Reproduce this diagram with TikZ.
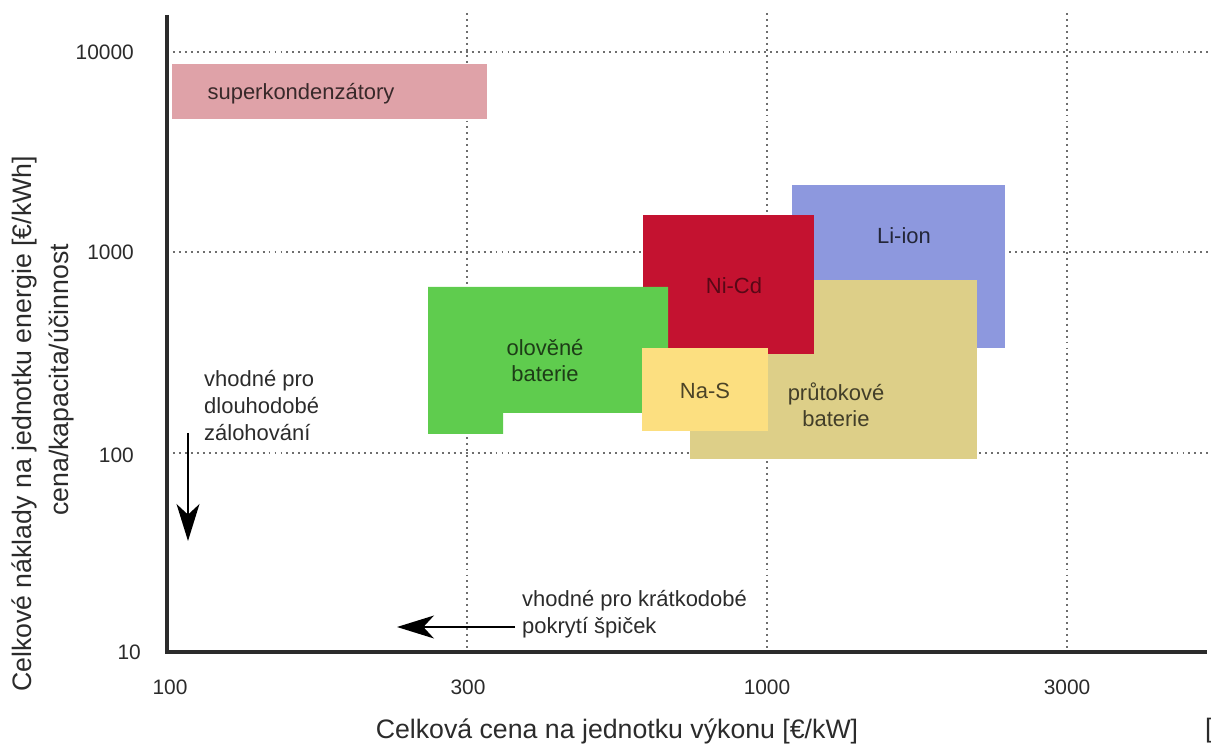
\documentclass[tikz,border=0pt]{standalone}
\usepackage{fontspec}
\setmainfont{Liberation Sans}
\usetikzlibrary{arrows.meta}
\definecolor{SuperPink}{HTML}{DFA2A8}
\definecolor{LiBlue}{HTML}{8D98DE}
\definecolor{NiRed}{HTML}{C41230}
\definecolor{LeadGreen}{HTML}{5FCC4E}
\definecolor{NaYellow}{HTML}{FCDF80}
\definecolor{FlowTan}{HTML}{DDCF88}
\definecolor{AxisGray}{HTML}{2B2B2B}
\definecolor{GridGray}{HTML}{6E6E6E}

\begin{document}
\begin{tikzpicture}[x=0.02cm,y=-0.02cm,
      gridline/.style={draw=GridGray,line width=1.3pt,dash pattern=on 1.1pt off 2.3pt},
      axisline/.style={draw=AxisGray,line width=1.8pt},
      ticklabel/.style={font=\fontsize{11.9}{14}\selectfont,text=AxisGray},
      axistitle/.style={font=\fontsize{15.2}{21}\selectfont,text=AxisGray},
      boxlabel/.style={font=\fontsize{12.5}{14.8}\selectfont,align=center},
      note/.style={font=\fontsize{12.5}{15.5}\selectfont,align=left,text=AxisGray},
      pointer/.style={-{Stealth[length=21pt,width=13pt,inset=6pt]},draw=black,line width=1.2pt}
    ]
      \useasboundingbox (0,0) rectangle (1211,746);

      % grid
      \foreach \gy in {52,252,453} \draw[gridline] (167,\gy) -- (1211,\gy);
      \foreach \gx in {467,767,1067} \draw[gridline] (\gx,13) -- (\gx,652);

      % technology areas
      \fill[LiBlue] (792,185) rectangle (1005,348);
      \fill[FlowTan] (690,280) rectangle (977,459);
      \fill[NiRed] (643,215) rectangle (814,354);
      \fill[LeadGreen] (428,287) -- (668,287) -- (668,413) -- (503,413) -- (503,434) -- (428,434) -- cycle;
      \fill[NaYellow] (642,348) rectangle (768,431);
      \fill[SuperPink] (172,64) rectangle (487,119);

      \node[boxlabel,text=black!75!SuperPink] (super) at (301,94) {superkondenzátory};
      \node[boxlabel,text=LiBlue!25!black] (liion) at (904,236) {Li-ion};
      \node[boxlabel,text=NiRed!45!black] (nicd) at (734,286) {Ni-Cd};
      \node[boxlabel,text=LeadGreen!30!black] (lead) at (545,361) {olověné\\baterie};
      \node[boxlabel,text=NaYellow!30!black] (nas) at (705,391) {Na-S};
      \node[boxlabel,text=FlowTan!30!black] (flow) at (836,405) {průtokové\\baterie};

      % axes
      \draw[axisline] (167,15) -- (167,652) -- (1207,652);

      \node[ticklabel,anchor=east] (y10000) at (140,52) {10000};
      \node[ticklabel,anchor=east] (y1000) at (140,252) {1000};
      \node[ticklabel,anchor=east] (y100) at (140,455) {100};
      \node[ticklabel,anchor=east] (y10) at (147,652) {10};
      \node[ticklabel] (x100) at (170,687) {100};
      \node[ticklabel] (x300) at (468,687) {300};
      \node[ticklabel] (x1000) at (767,687) {1000};
      \node[ticklabel] (x3000) at (1067,687) {3000};

      \node[axistitle] (xtitle) at (617,731) {Celková cena na jednotku výkonu [€/kW]};
      \node[axistitle,rotate=90] (ytitle) at (24,424) {Celkové náklady na jednotku energie [€/kWh]};
      \node[axistitle,rotate=90] (ysub) at (61,380) {cena/kapacita/účinnost};
      \node[axistitle,anchor=west] (bracket) at (1199,731) {[};

      % notes with arrows
      \node[note,anchor=north west] (longnote) at (198,364) {vhodné pro\\dlouhodobé\\zálohování};
      \node[note,anchor=west] (shortnote) at (516,614) {vhodné pro krátkodobé\\pokrytí špiček};
      \coordinate (longtop) at (188,433);
      \coordinate (longtip) at (188,541);
      \coordinate (shorttail) at (515,627);
      \coordinate (shorttip) at (397,627);
      \draw[pointer] (longtop) -- (longtip);
      \draw[pointer] (shorttail) -- (shorttip);
    \end{tikzpicture}
\end{document}
